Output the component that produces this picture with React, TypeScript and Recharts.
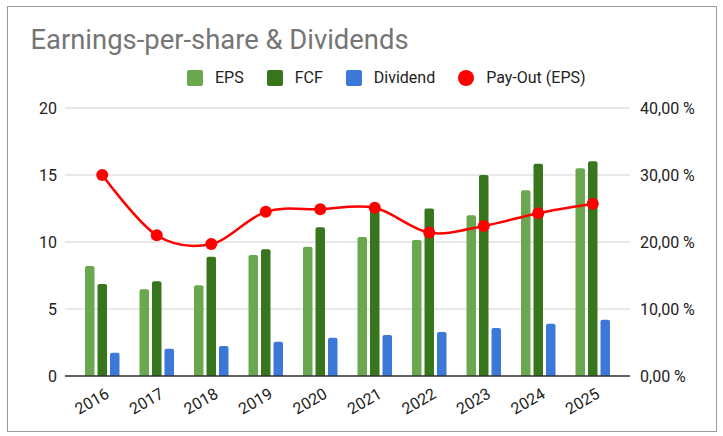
import React from 'react';
import { ComposedChart, Bar, Line, XAxis, YAxis, CartesianGrid } from 'recharts';

const years = ['2016', '2017', '2018', '2019', '2020', '2021', '2022', '2023', '2024', '2025'];
const eps = [8.2, 6.47, 6.77, 9.03, 9.65, 10.37, 10.15, 12.0, 13.86, 15.5];
const fcf = [6.87, 7.07, 8.9, 9.45, 11.1, 12.5, 12.5, 15.0, 15.84, 16.02];
const dividend = [1.74, 2.04, 2.24, 2.56, 2.86, 3.06, 3.28, 3.58, 3.9, 4.2];
const payout = [30.0, 21.0, 19.7, 24.5, 24.9, 25.1, 21.4, 22.4, 24.3, 25.7];
const leftTicks = [0, 5, 10, 15, 20];
const rightTicks = [0, 10, 20, 30, 40];

const seriesNames = { eps: 'EPS', fcf: 'FCF', dividend: 'Dividend', payout: 'Pay-Out (EPS)' };
const colors = { eps: '#6aa84f', fcf: '#38761d', dividend: '#3c78d8', payout: '#ff0000' };

const data = years.map((year, i) => ({
  year,
  eps: eps[i],
  fcf: fcf[i],
  dividend: dividend[i],
  payout: payout[i],
}));

// Cardinal (Catmull-Rom, tension 0) curve factory, like Google Charts' smooth line
function smoothCurve(context: any) {
  const k = 1 / 6;
  let x0 = NaN, y0 = NaN, x1 = NaN, y1 = NaN, x2 = NaN, y2 = NaN, p = 0;
  const seg = (x: number, y: number) => {
    context.bezierCurveTo(
      x1 + k * (x2 - x0),
      y1 + k * (y2 - y0),
      x2 + k * (x1 - x),
      y2 + k * (y1 - y),
      x2,
      y2
    );
  };
  return {
    areaStart() {},
    areaEnd() {},
    lineStart() {
      x0 = x1 = x2 = y0 = y1 = y2 = NaN;
      p = 0;
    },
    lineEnd() {
      if (p === 2) context.lineTo(x2, y2);
      else if (p === 3) seg(x1, y1);
    },
    point(xx: number, yy: number) {
      const x = +xx, y = +yy;
      switch (p) {
        case 0:
          p = 1;
          context.moveTo(x, y);
          break;
        case 1:
          p = 2;
          x1 = x;
          y1 = y;
          break;
        case 2:
          p = 3;
          seg(x, y);
          break;
        default:
          seg(x, y);
          break;
      }
      x0 = x1; x1 = x2; x2 = x;
      y0 = y1; y1 = y2; y2 = y;
    },
  };
}

const FONT = 'Roboto, "Noto Sans", sans-serif';

const XTick = (props: any) => {
  const { x, y, payload } = props;
  const ax = x + 8;
  const ay = y + 21;
  return (
    <text
      x={ax}
      y={ay}
      transform={`rotate(-30 ${ax} ${ay})`}
      textAnchor="end"
      fontSize={16}
      fill="#222"
      fontFamily={FONT}
    >
      {payload.value}
    </text>
  );
};

const fmtPct = (v: number) => `${v.toFixed(2).replace('.', ',')} %`;

const legendItems = [
  { key: 'eps', shape: 'square' },
  { key: 'fcf', shape: 'square' },
  { key: 'dividend', shape: 'square' },
  { key: 'payout', shape: 'circle' },
] as const;

export default function App() {
  return (
    <div
      style={{
        position: 'absolute',
        left: 7,
        top: 6,
        width: 710,
        height: 426,
        border: '1px solid #999',
        boxSizing: 'border-box',
        background: '#fff',
        fontFamily: FONT,
      }}
    >
      <div
        style={{
          position: 'absolute',
          left: 22.5,
          top: 20.3,
          fontSize: 27.4,
          lineHeight: '27px',
          color: '#757575',
          whiteSpace: 'nowrap',
        }}
      >
        Earnings-per-share &amp; Dividends
      </div>
      <div
        style={{
          position: 'absolute',
          left: 179,
          top: 62.7,
          height: 16,
          display: 'flex',
          alignItems: 'center',
          fontSize: 16,
          color: '#222',
          whiteSpace: 'nowrap',
        }}
      >
        {legendItems.map((it, i) => (
          <div key={it.key} style={{ display: 'flex', alignItems: 'center', marginLeft: i === 0 ? 0 : 23 }}>
            <span
              style={{
                display: 'inline-block',
                width: 16,
                height: 16,
                borderRadius: it.shape === 'circle' ? 8 : 2,
                background: (colors as any)[it.key],
                marginRight: 12,
              }}
            />
            <span style={{ lineHeight: '16px' }}>{(seriesNames as any)[it.key]}</span>
          </div>
        ))}
      </div>
      <div style={{ position: 'absolute', left: 0, top: 0 }}>
        <ComposedChart
          width={708}
          height={423}
          data={data}
          margin={{ top: 101, right: 0, bottom: 0, left: 0 }}
          barSize={9.5}
          barGap={3}
        >
          <CartesianGrid yAxisId="left" vertical={false} stroke="#e0e0e0" strokeWidth={1.3} />
          <XAxis
            dataKey="year"
            height={54}
            padding={{ left: 10, right: 10 }}
            tickLine={false}
            tickSize={0}
            tickMargin={0}
            axisLine={{ stroke: '#333', strokeWidth: 1.5 }}
            tick={<XTick />}
            interval={0}
          />
          <YAxis
            yAxisId="left"
            orientation="left"
            width={57}
            domain={[0, 20]}
            ticks={leftTicks}
            axisLine={false}
            tickLine={false}
            tick={{ fontSize: 16, fill: '#222', fontFamily: FONT }}
          />
          <YAxis
            yAxisId="right"
            orientation="right"
            width={86}
            domain={[0, 40]}
            ticks={rightTicks}
            axisLine={false}
            tickLine={false}
            tickMargin={4}
            tickFormatter={fmtPct}
            tick={{ fontSize: 16, fill: '#222', fontFamily: FONT, textAnchor: 'start' }}
          />
          <Bar yAxisId="left" dataKey="eps" fill={colors.eps} radius={[2, 2, 0, 0]} isAnimationActive={false} />
          <Bar yAxisId="left" dataKey="fcf" fill={colors.fcf} radius={[2, 2, 0, 0]} isAnimationActive={false} />
          <Bar yAxisId="left" dataKey="dividend" fill={colors.dividend} radius={[2, 2, 0, 0]} isAnimationActive={false} />
          <Line
            yAxisId="right"
            dataKey="payout"
            type={smoothCurve as any}
            stroke={colors.payout}
            strokeWidth={2.5}
            dot={{ r: 6, fill: colors.payout, stroke: colors.payout, strokeWidth: 0 }}
            activeDot={false}
            isAnimationActive={false}
          />
        </ComposedChart>
      </div>
    </div>
  );
}
